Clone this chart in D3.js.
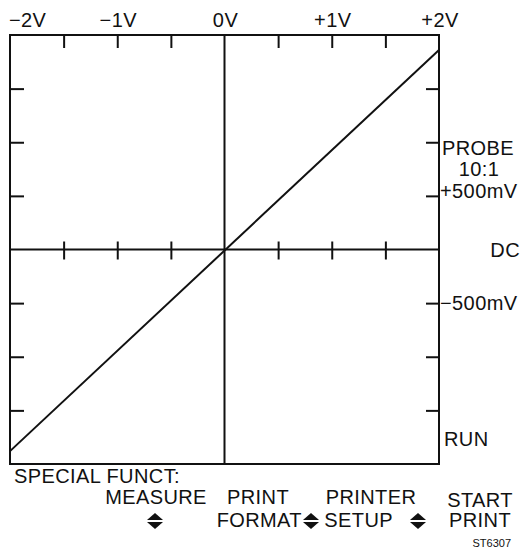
<!DOCTYPE html>
<html>
<head>
<meta charset="utf-8">
<script src="https://cdn.jsdelivr.net/npm/d3@7"></script>
<style>
  body { margin: 0; background: #fff; }
  svg text { font-family: "Liberation Sans", Arial, Helvetica, sans-serif; fill: #111; letter-spacing: 0.4px; }
</style>
</head>
<body>
<div id="chart"></div>
<script>
// horizontal (volts) and vertical (volts) values
var xLabelValues = [-2, -1, 0, 1, 2];
var xLabels = ["\u22122V", "\u22121V", "0V", "+1V", "+2V"];
var xTickValues = [-1.5, -1, -0.5, 0.5, 1, 1.5];
var yTickValues = [-0.75, -0.5, -0.25, 0.25, 0.5, 0.75];
var traceX = [-2, 2];
var traceY = [-0.94, 0.93];
var sideLabels = ["PROBE", "10:1", "+500mV", "DC", "\u2212500mV", "RUN"];
var menuTop = ["MEASURE", "PRINT", "PRINTER", "START"];
var menuBottom = ["", "FORMAT", "SETUP", "PRINT"];

var width = 522, height = 549;
var box = { left: 10, top: 35, right: 439, bottom: 464 };
var fontSize = "20px";

var svg = d3.select("#chart").append("svg")
    .attr("width", width)
    .attr("height", height);

var x = d3.scaleLinear().domain([-2, 2]).range([box.left, box.right]);
var y = d3.scaleLinear().domain([-1, 1]).range([box.bottom, box.top]);

var ink = "#111";

// frame
svg.append("rect")
    .attr("x", box.left).attr("y", box.top)
    .attr("width", box.right - box.left).attr("height", box.bottom - box.top)
    .attr("fill", "none").attr("stroke", ink).attr("stroke-width", 2);

// edge ticks, pointing inwards
var strip = function(g) {
    g.select(".domain").remove();
    g.selectAll(".tick line").attr("stroke", ink).attr("stroke-width", 2);
    g.selectAll(".tick text").remove();
};

svg.append("g").attr("transform", "translate(0," + box.top + ")")
    .call(d3.axisTop(x).tickValues(xTickValues).tickSize(-13))
    .call(strip);
svg.append("g").attr("transform", "translate(" + box.left + ",0)")
    .call(d3.axisLeft(y).tickValues(yTickValues).tickSize(-14))
    .call(strip);
svg.append("g").attr("transform", "translate(" + box.right + ",0)")
    .call(d3.axisRight(y).tickValues(yTickValues).tickSize(-13))
    .call(strip);

// centre axes
svg.append("line")
    .attr("x1", box.left).attr("x2", box.right).attr("y1", y(0)).attr("y2", y(0))
    .attr("stroke", ink).attr("stroke-width", 2);
svg.append("line")
    .attr("x1", x(0)).attr("x2", x(0)).attr("y1", box.top).attr("y2", box.bottom)
    .attr("stroke", ink).attr("stroke-width", 2);
svg.append("g").attr("transform", "translate(0," + y(0) + ")")
    .call(d3.axisBottom(x).tickValues(xTickValues).tickSize(10))
    .call(strip);
svg.append("g").attr("transform", "translate(0," + y(0) + ")")
    .call(d3.axisTop(x).tickValues(xTickValues).tickSize(8))
    .call(strip);

// trace
var trace = traceX.map(function(v, i) { return [v, traceY[i]]; });
svg.append("path")
    .datum(trace)
    .attr("d", d3.line().x(function(d) { return x(d[0]); }).y(function(d) { return y(d[1]); }))
    .attr("fill", "none").attr("stroke", ink).attr("stroke-width", 2);

// top labels
svg.selectAll(".xlab").data(xLabelValues).enter().append("text")
    .attr("class", "xlab")
    .attr("x", function(d, i) { return i === 0 ? box.left - 1 : x(d) + 1; })
    .attr("y", 27)
    .attr("text-anchor", function(d, i) { return i === 0 ? "start" : "middle"; })
    .style("font-size", fontSize)
    .text(function(d, i) { return xLabels[i]; });

// right side labels
var sideX = [442, 479, 440, 520, 440, 444];
var sideY = [155, 176, 198, 257, 310, 446];
var sideAnchor = ["start", "middle", "start", "end", "start", "start"];
svg.selectAll(".side").data(sideLabels).enter().append("text")
    .attr("class", "side")
    .attr("x", function(d, i) { return sideX[i]; })
    .attr("y", function(d, i) { return sideY[i]; })
    .attr("text-anchor", function(d, i) { return sideAnchor[i]; })
    .style("font-size", fontSize)
    .text(function(d) { return d; });

// soft key menu
svg.append("text")
    .attr("x", 14).attr("y", 483)
    .style("font-size", fontSize)
    .text("SPECIAL FUNCT:");

var menuX = [156, 258, 371, 480];
var menuTopY = [504, 504, 504, 507];
svg.selectAll(".mtop").data(menuTop).enter().append("text")
    .attr("class", "mtop")
    .attr("x", function(d, i) { return menuX[i]; })
    .attr("y", function(d, i) { return menuTopY[i]; })
    .attr("text-anchor", "middle")
    .style("font-size", fontSize)
    .text(function(d) { return d; });

var menuBotX = [0, 302, 393, 480];
var menuBotAnchor = ["middle", "end", "end", "middle"];
svg.selectAll(".mbot").data(menuBottom).enter().append("text")
    .attr("class", "mbot")
    .attr("x", function(d, i) { return menuBotX[i]; })
    .attr("y", 527)
    .attr("text-anchor", function(d, i) { return menuBotAnchor[i]; })
    .style("font-size", fontSize)
    .text(function(d) { return d; });

// up/down arrows
var arrowX = [155, 311, 418];
var arrows = svg.selectAll(".arrow").data(arrowX).enter().append("g")
    .attr("class", "arrow")
    .attr("transform", function(d) { return "translate(" + d + ",521)"; });
arrows.append("path").attr("d", "M-8,-1L0,-8L8,-1Z").attr("fill", ink);
arrows.append("path").attr("d", "M-8,1L0,8L8,1Z").attr("fill", ink);

svg.append("text")
    .attr("x", 511).attr("y", 547)
    .attr("text-anchor", "end")
    .style("font-size", "11px")
    .style("letter-spacing", "0px")
    .text("ST6307");
</script>
</body>
</html>
